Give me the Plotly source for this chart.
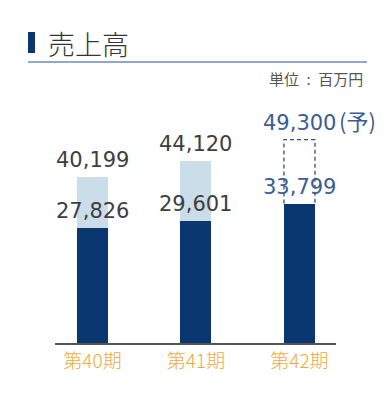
import plotly.graph_objects as go

categories = ["第40期", "第41期", "第42期"]
full_year = [40199, 44120, 49300]
first_half = [27826, 29601, 33799]
full_labels = ["40,199", "44,120", "49,300"]
half_labels = ["27,826", "29,601", "33,799"]
is_forecast = [False, False, True]
forecast_suffix = "(予)"

DARK = "#0B3770"
LIGHT = "#CCDDEA"
TXT = "#3E3E3E"
BLUE_TXT = "#3A5D94"
ORANGE = "#F2A93B"
FONT = "Noto Sans CJK JP"
NUM_FONT = "DejaVu Sans"

xs = list(range(len(categories)))
W = 0.30

fig = go.Figure()
fig.add_trace(go.Bar(
    x=[x for x, f in zip(xs, is_forecast) if not f],
    y=[v for v, f in zip(full_year, is_forecast) if not f],
    width=W, marker=dict(color=LIGHT, line=dict(width=0)),
    hoverinfo="skip", showlegend=False))
fig.add_trace(go.Bar(
    x=xs, y=first_half, width=W,
    marker=dict(color=DARK, line=dict(width=0)),
    hoverinfo="skip", showlegend=False))

# dashed outline for forecast
for x, f, v_full, v_half in zip(xs, is_forecast, full_year, first_half):
    if f:
        fig.add_trace(go.Scatter(
            x=[x - W / 2, x - W / 2, x + W / 2, x + W / 2],
            y=[v_half, v_full, v_full, v_half],
            mode="lines", line=dict(color="#2E4C86", width=1.3, dash="4px,3px"),
            hoverinfo="skip", showlegend=False))

NUM_SIZE = 21
YS = 3
annotations = []
for x, f, vf, vh, lf, lh in zip(xs, is_forecast, full_year, first_half, full_labels, half_labels):
    col = BLUE_TXT if f else TXT
    annotations.append(dict(x=x, y=vf, xref="x", yref="y", text=lf, showarrow=False,
                            yanchor="bottom", yshift=YS,
                            font=dict(family=NUM_FONT, size=NUM_SIZE, color=col)))
    if f:
        annotations.append(dict(x=x, y=vf, xref="x", yref="y", text=forecast_suffix,
                                showarrow=False, xanchor="left", yanchor="bottom",
                                yshift=YS - 1, xshift=38,
                                font=dict(family=FONT, size=22, color=col)))
    annotations.append(dict(x=x, y=vh, xref="x", yref="y", text=lh, showarrow=False,
                            yanchor="bottom", yshift=YS,
                            font=dict(family=NUM_FONT, size=NUM_SIZE, color=col)))

annotations.append(dict(x=46/390, y=1 - 43/400, xref="paper", yref="paper", text="売上高",
                        showarrow=False, xanchor="left", yanchor="middle",
                        font=dict(family=FONT, size=27, color="#333333", weight=300)))
annotations.append(dict(x=365/390, y=1 - 78/400, xref="paper", yref="paper",
                        text="単位\u2002:\u2002百万円",
                        showarrow=False, xanchor="right", yanchor="middle",
                        font=dict(family=FONT, size=15, color="#555555")))

shapes = [
    dict(type="rect", xref="paper", yref="paper", x0=28/390, x1=35/390,
         y0=1 - 53/400, y1=1 - 32/400, fillcolor=DARK, line=dict(width=0)),
    dict(type="line", xref="paper", yref="paper", x0=28/390, x1=367/390,
         y0=1 - 62/400, y1=1 - 62/400, line=dict(color="#6B8DB8", width=1.5)),
]

fig.update_layout(
    width=390, height=400, margin=dict(l=0, r=0, t=0, b=0),
    paper_bgcolor="white", plot_bgcolor="white",
    barmode="overlay", bargap=0,
    annotations=annotations, shapes=shapes,
    xaxis=dict(domain=[55/390, 336/390], range=[-0.362, 2.353],
               tickvals=xs, ticktext=categories, showgrid=False, zeroline=False,
               showline=True, linecolor="#555555", linewidth=1.5, ticks="",
               tickfont=dict(family=FONT, size=19, color=ORANGE, weight=300),
               fixedrange=True),
    yaxis=dict(domain=[57/400, 300/400], range=[0, 243 * 242.5], visible=False,
               fixedrange=True),
)

fig.write_html("out.html", config={"displayModeBar": False},
               post_script="document.body.style.margin='0';document.body.style.overflow='hidden';")
